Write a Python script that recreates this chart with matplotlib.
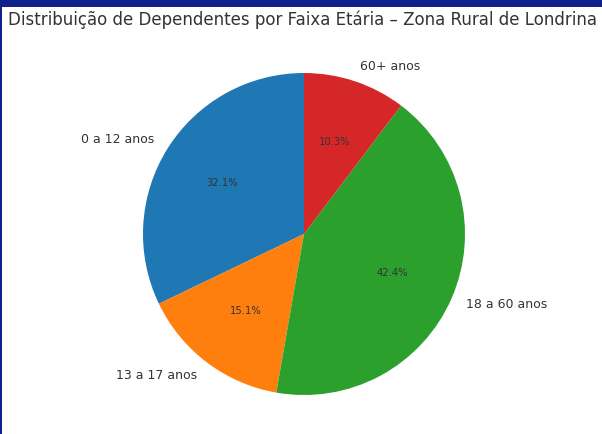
import matplotlib
matplotlib.use("Agg")
import matplotlib.pyplot as plt
from matplotlib.patches import Rectangle

categorias = ["0 a 12 anos", "13 a 17 anos", "18 a 60 anos", "60+ anos"]
percentuais = [32.1, 15.1, 42.4, 10.3]
cores = ["#1f77b4", "#ff7f0e", "#2ca02c", "#d62728"]
titulo = "Distribuição de Dependentes por Faixa Etária – Zona Rural de Londrina"

W, H = 602, 434
fig = plt.figure(figsize=(W / 100, H / 100), dpi=100)
fig.patch.set_facecolor("white")

cx, cy, r = 304, 234, 161
ax = fig.add_axes([(cx - r) / W, (H - cy - r) / H, 2 * r / W, 2 * r / H])
wedges, texts, autotexts = ax.pie(
    percentuais, labels=categorias, colors=cores, autopct="%1.1f%%",
    startangle=90, counterclock=True,
    textprops={"fontsize": 9, "color": "#333333"},
)
for t in autotexts:
    t.set_fontsize(7.2)
    t.set_color("#333333")
ax.set_xlim(-1, 1)
ax.set_ylim(-1, 1)

fig.text(302 / W, 1 - 20 / H, titulo, ha="center", va="center",
         fontsize=12, color="#333333")

# screenshot frame
fig.patches.append(Rectangle((0, 1 - 7 / H), 1, 7 / H, transform=fig.transFigure,
                             facecolor="#0f208c", edgecolor="none", zorder=10))
fig.patches.append(Rectangle((0, 0), 2 / W, 1, transform=fig.transFigure,
                             facecolor="#0f208c", edgecolor="none", zorder=10))

fig.savefig("out.png", dpi=100)
